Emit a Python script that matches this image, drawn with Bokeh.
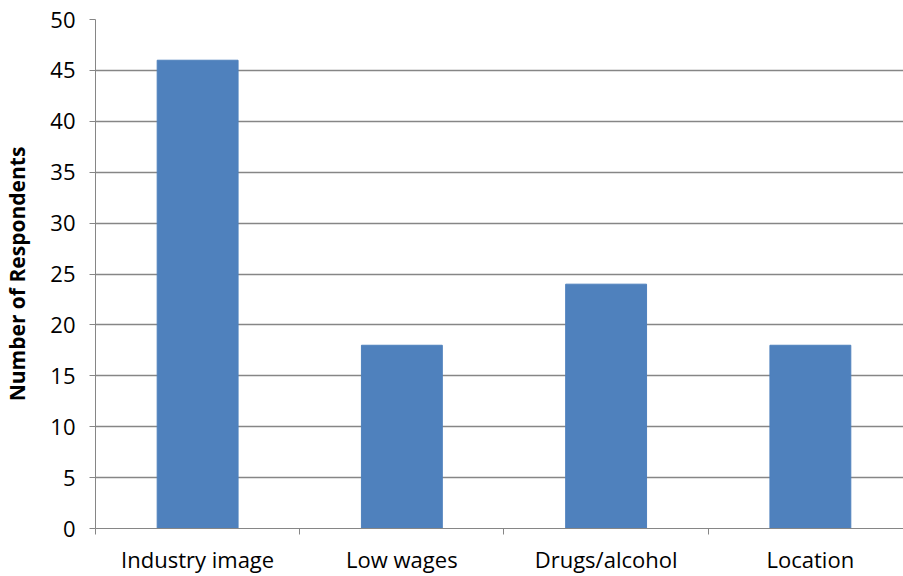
from bokeh.plotting import figure
from bokeh.models import FixedTicker, Range1d
from bokeh.embed import file_html
from bokeh.resources import INLINE

categories = ["Industry image", "Low wages", "Drugs/alcohol", "Location"]
respondents = [46, 18, 24, 18]
y_ticks = [0, 5, 10, 15, 20, 25, 30, 35, 40, 45, 50]

FONT = "Open Sans"
GRID = "#868686"

xs = [i + 0.5 for i in range(len(categories))]

p = figure(width=903, height=576, output_backend="svg", toolbar_location=None,
           x_range=Range1d(0, 3.956), y_range=Range1d(0, 50),
           min_border_left=95, min_border_right=0, min_border_top=19, min_border_bottom=48)
p.outline_line_color = None
p.background_fill_color = "white"

p.vbar(x=xs, top=respondents, width=0.396, bottom=0,
       fill_color="#4F81BD", line_color="#4F81BD")

# x axis
p.xaxis.ticker = FixedTicker(ticks=xs, minor_ticks=[0, 1, 2, 3, 4])
p.xaxis.major_label_overrides = {x: c for x, c in zip(xs, categories)}
p.xaxis.major_tick_line_color = None
p.xaxis.minor_tick_line_color = GRID
p.xaxis.minor_tick_out = 6
p.xaxis.minor_tick_in = 0
p.xaxis.axis_line_color = GRID
p.xaxis.major_label_text_font = FONT
p.xaxis.major_label_text_font_size = "22px"
p.xaxis.major_label_text_color = "#000000"
p.xaxis.major_label_standoff = 9

# y axis
p.yaxis.ticker = FixedTicker(ticks=y_ticks)
p.yaxis.minor_tick_line_color = None
p.yaxis.major_tick_line_color = GRID
p.yaxis.major_tick_out = 6
p.yaxis.major_tick_in = 0
p.yaxis.axis_line_color = GRID
p.yaxis.major_label_text_font = FONT
p.yaxis.major_label_text_font_size = "22px"
p.yaxis.major_label_text_color = "#000000"
p.yaxis.major_label_standoff = 14
p.yaxis.axis_label = "Number of Respondents"
p.yaxis.axis_label_text_font = FONT
p.yaxis.axis_label_text_font_size = "21px"
p.yaxis.axis_label_text_font_style = "bold"
p.yaxis.axis_label_text_color = "#000000"
p.yaxis.axis_label_standoff = 16

p.xgrid.grid_line_color = None
p.ygrid.grid_line_color = GRID
p.ygrid.grid_line_width = 1.5

open("out.html", "w").write(file_html(p, INLINE))
